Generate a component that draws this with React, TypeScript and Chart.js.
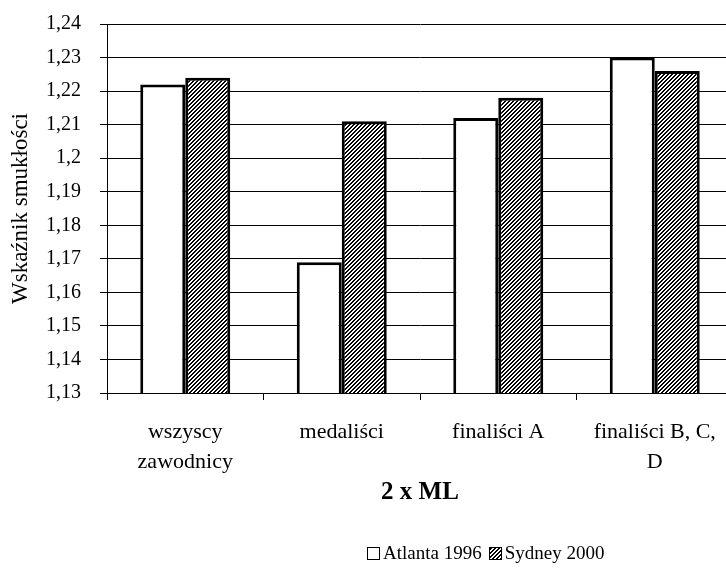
import React, { useEffect, useRef } from "react";
import { Chart, registerables } from "chart.js";

Chart.register(...registerables);

const categories: (string | string[])[] = [
  ["wszyscy", "zawodnicy"],
  "medaliści",
  "finaliści A",
  ["finaliści B, C,", "D"],
];
const atlanta1996 = [1.222, 1.169, 1.212, 1.23];
const sydney2000 = [1.224, 1.211, 1.218, 1.226];
const seriesNames = ["Atlanta 1996", "Sydney 2000"];
const yMin = 1.13;
const yMax = 1.24;
const yStep = 0.01;
const yTitle = "Wskaźnik smukłości";
const xTitle = "2 x ML";

const FONT = "'Liberation Serif', 'Times New Roman', serif";

function makeHatch(ctx: CanvasRenderingContext2D): CanvasPattern | string {
  const c = document.createElement("canvas");
  c.width = 4;
  c.height = 4;
  const g = c.getContext("2d");
  if (!g) return "#888";
  g.fillStyle = "#fff";
  g.fillRect(0, 0, 4, 4);
  g.fillStyle = "#000";
  for (let x = 0; x < 4; x++) {
    for (let y = 0; y < 4; y++) {
      if ((x + y) % 4 < 2) g.fillRect(x, y, 1, 1);
    }
  }
  return ctx.createPattern(c, "repeat") || "#888";
}

export default function App() {
  const ref = useRef<HTMLCanvasElement | null>(null);

  useEffect(() => {
    const canvas = ref.current;
    if (!canvas) return;
    const ctx = canvas.getContext("2d");
    if (!ctx) return;
    const hatch = makeHatch(ctx);
    const chart = new Chart(canvas, {
      type: "bar",
      data: {
        labels: categories,
        datasets: [
          {
            label: seriesNames[0],
            data: atlanta1996,
            backgroundColor: "#ffffff",
            borderColor: "#000000",
            borderWidth: 3,
            categoryPercentage: 0.575,
            barPercentage: 1,
          },
          {
            label: seriesNames[1],
            data: sydney2000,
            backgroundColor: hatch as any,
            borderColor: "#000000",
            borderWidth: 3,
            categoryPercentage: 0.575,
            barPercentage: 1,
          },
        ],
      },
      options: {
        responsive: false,
        animation: false,
        devicePixelRatio: 1,
        layout: { padding: { top: 15, right: 17, bottom: 0, left: 0 } },
        plugins: {
          legend: { display: false },
          tooltip: { enabled: false },
        },
        scales: {
          x: {
            offset: true,
            grid: {
              offset: true,
              drawOnChartArea: false,
              drawTicks: true,
              tickLength: 7,
              color: "#000",
            },
            border: { display: true, color: "#000", width: 1 },
            ticks: {
              color: "#000",
              font: { family: FONT, size: 22, lineHeight: 1.36 },
              padding: 17,
              maxRotation: 0,
              autoSkip: false,
            },
            title: {
              display: true,
              text: xTitle,
              color: "#000",
              font: { family: FONT, size: 25, weight: "bold" },
              padding: { top: 0, bottom: 67 },
            },
            afterFit: (s: any) => {
              s.height = 182;
            },
          },
          y: {
            min: yMin,
            max: yMax,
            grid: {
              color: "#000",
              lineWidth: 1,
              drawTicks: true,
              tickLength: 7,
            },
            border: { display: true, color: "#000", width: 1 },
            ticks: {
              stepSize: yStep,
              color: "#000",
              font: { family: FONT, size: 20 },
              padding: 19,
              callback: (v: any) =>
                String(Number(Number(v).toFixed(2))).replace(".", ","),
            },
            title: {
              display: true,
              text: yTitle,
              color: "#000",
              font: { family: FONT, size: 23 },
              padding: { top: 7, bottom: 0 },
            },
            afterFit: (s: any) => {
              s.width = 107;
            },
          },
        },
      },
    });
    return () => chart.destroy();
  }, []);

  const swatch: React.CSSProperties = {
    display: "inline-block",
    width: 11,
    height: 11,
    border: "1px solid #000",
    marginRight: 3,
    verticalAlign: "-1px",
  };

  return (
    <div
      style={{
        position: "fixed",
        left: 0,
        top: 0,
        width: 726,
        height: 575,
        overflow: "hidden",
        background: "#fff",
      }}
    >
      <canvas
        ref={ref}
        width={750}
        height={582}
        style={{ position: "absolute", left: 0, top: -7, display: "block", width: 750, height: 582 }}
      />
      <div
        style={{
          position: "absolute",
          left: 367,
          top: 540,
          fontFamily: FONT,
          fontSize: 19,
          color: "#000",
          whiteSpace: "nowrap",
          lineHeight: "26px",
        }}
      >
        <span style={{ ...swatch, background: "#fff" }} />
        <span>{seriesNames[0]}</span>
        <span
          style={{
            ...swatch,
            marginLeft: 7,
            background:
              "repeating-linear-gradient(-45deg, #000 0px, #000 1.4px, #fff 1.4px, #fff 2.8px)",
          }}
        />
        <span>{seriesNames[1]}</span>
      </div>
    </div>
  );
}
